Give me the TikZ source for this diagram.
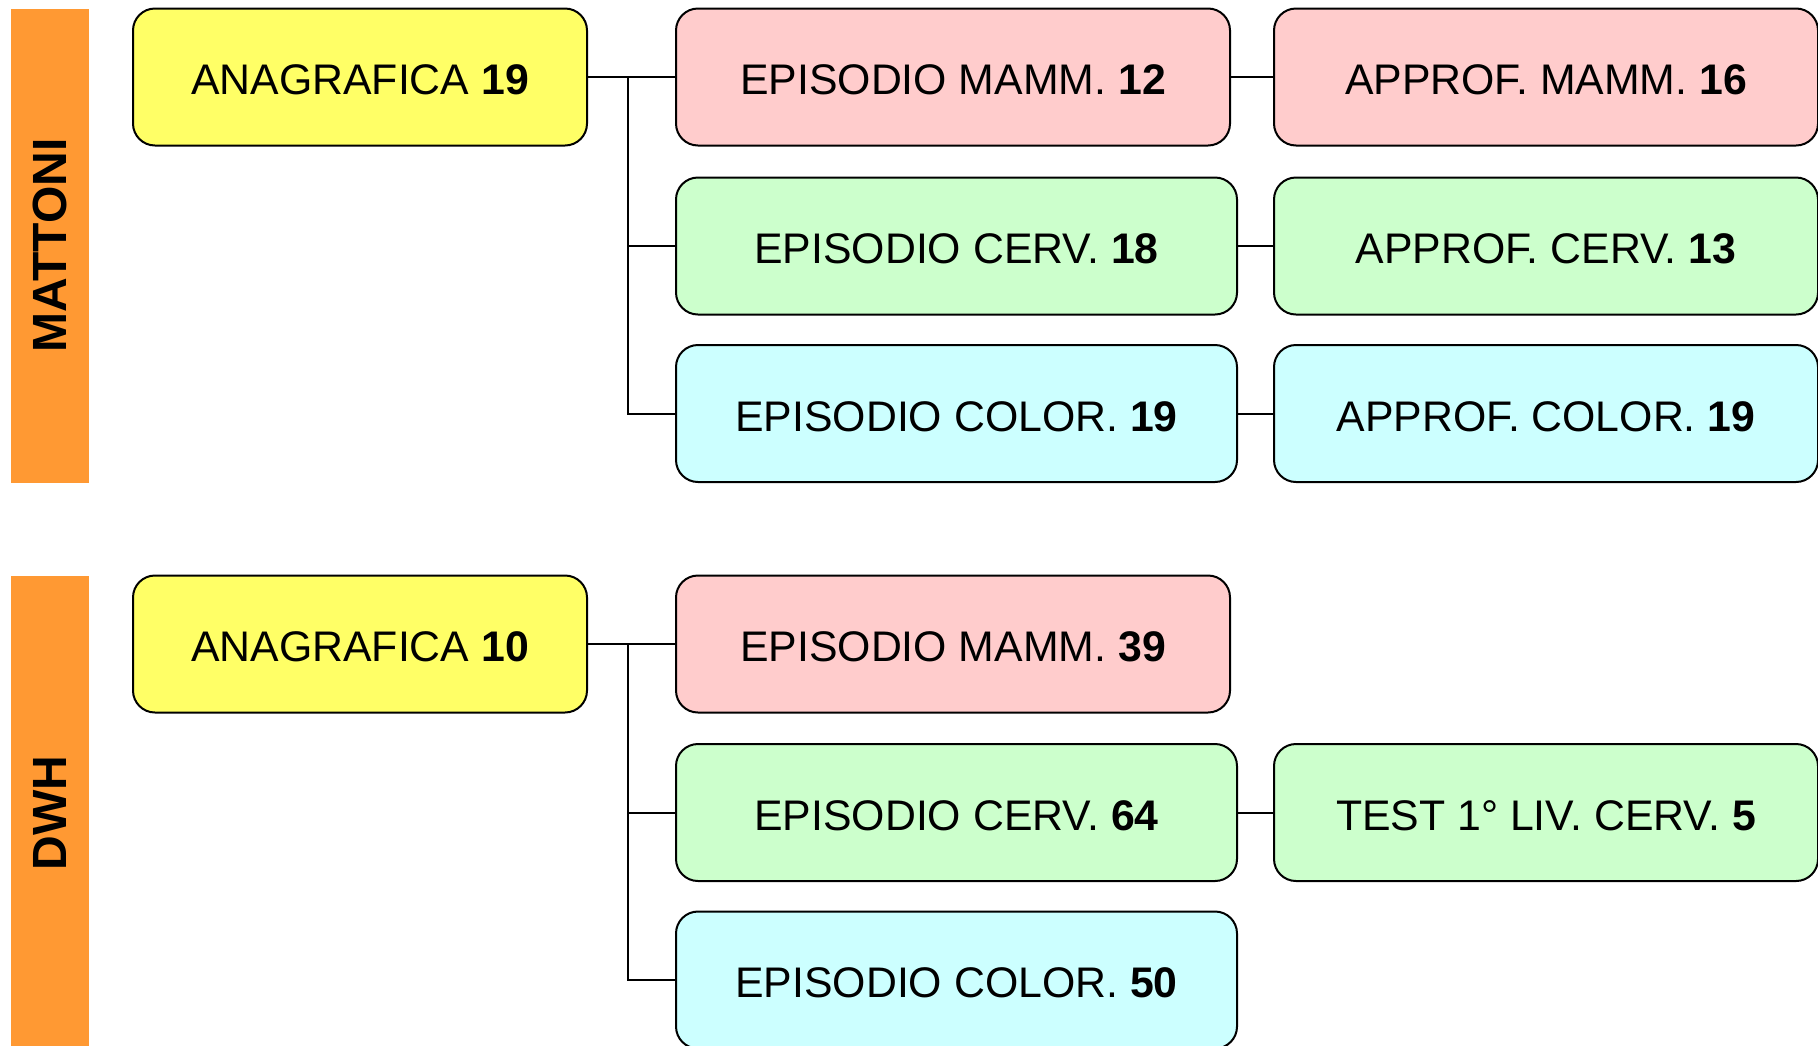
\documentclass[tikz,border=0pt]{standalone}
\usepackage{fontspec}
\setmainfont{Liberation Sans}
\definecolor{orangebar}{HTML}{FF9933}
\definecolor{yelbox}{HTML}{FFFF66}
\definecolor{pinkbox}{HTML}{FFCCCC}
\definecolor{greenbox}{HTML}{CCFFCC}
\definecolor{cyanbox}{HTML}{CCFFFF}
\tikzset{
  bar/.style={fill=orangebar, draw=none, minimum width=39pt, minimum height=237pt, inner sep=0pt},
  bartext/.style={rotate=90, font=\fontsize{24}{28}\selectfont\bfseries, inner sep=0pt},
  box/.style={draw=black, line width=1pt, rounded corners=11pt, minimum height=68.5pt, inner sep=0pt, text height=17.8pt, text depth=0pt, font=\fontsize{21.4}{25}\selectfont},
  ybox/.style={box, fill=yelbox, minimum width=227pt},
  pbox/.style={box, fill=pinkbox, minimum width=277pt},
  gbox/.style={box, fill=greenbox, minimum width=280.5pt},
  cbox/.style={box, fill=cyanbox, minimum width=280.5pt},
  abox/.style={box, minimum width=272pt},
  conn/.style={draw=black, line width=1pt}
}
\begin{document}
\begin{tikzpicture}[x=0.5pt,y=-0.5pt]
\useasboundingbox (0,0) rectangle (1818,1045);
\clip (0,0) rectangle (1818,1045);
% MATTONI section
\node[bar] (bar1) at (50,245.5) {};
\node[bartext] (bar1t) at (bar1.center) {MATTONI};
\node[ybox] (yel1) at (360,77) {ANAGRAFICA \textbf{19}};
\node[pbox] (epM1) at (953,77) {EPISODIO MAMM. \textbf{12}};
\node[gbox] (epC1) at (956.5,246) {EPISODIO CERV. \textbf{18}};
\node[cbox] (epO1) at (956.5,413.5) {EPISODIO COLOR. \textbf{19}};
\node[abox, fill=pinkbox] (apM1) at (1546,77) {APPROF. MAMM. \textbf{16}};
\node[abox, fill=greenbox] (apC1) at (1546,246) {APPROF. CERV. \textbf{13}};
\node[abox, fill=cyanbox] (apO1) at (1546,413.5) {APPROF. COLOR. \textbf{19}};
\coordinate (j1) at (628,77);
\draw[conn] (yel1.east) -- (epM1.west);
\draw[conn] (j1) |- (epO1.west);
\draw[conn] (j1 |- epC1.west) -- (epC1.west);
\draw[conn] (epM1.east) -- (apM1.west);
\draw[conn] (epC1.east) -- (apC1.west);
\draw[conn] (epO1.east) -- (apO1.west);
% DWH section
\node[bar] (bar2) at (50,813) {};
\node[bartext] (bar2t) at (bar2.center) {DWH};
\node[ybox] (yel2) at (360,644) {ANAGRAFICA \textbf{10}};
\node[pbox] (epM2) at (953,644) {EPISODIO MAMM. \textbf{39}};
\node[gbox] (epC2) at (956.5,812.5) {EPISODIO CERV. \textbf{64}};
\node[cbox] (epO2) at (956.5,980) {EPISODIO COLOR. \textbf{50}};
\node[abox, fill=greenbox] (test2) at (1546,812.5) {TEST 1° LIV. CERV. \textbf{5}};
\coordinate (j2) at (628,644);
\draw[conn] (yel2.east) -- (epM2.west);
\draw[conn] (j2) |- (epO2.west);
\draw[conn] (j2 |- epC2.west) -- (epC2.west);
\draw[conn] (epC2.east) -- (test2.west);
\end{tikzpicture}
\end{document}
